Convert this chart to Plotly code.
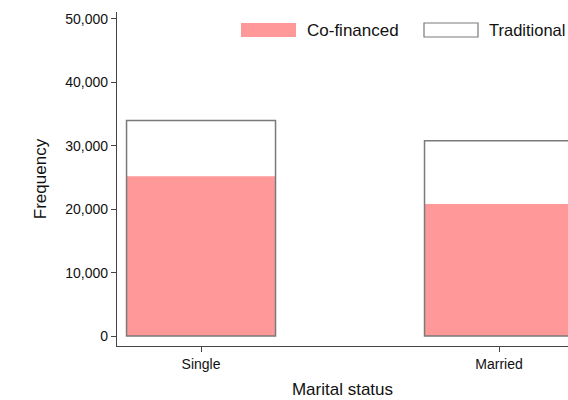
import plotly.graph_objects as go

categories = ["Single", "Married"]
series_names = ["Co-financed", "Traditional"]
cofinanced = [25200, 20800]
traditional = [34000, 30800]
y_ticks = [0, 10000, 20000, 30000, 40000, 50000]
y_ticklabels = ["0", "10,000", "20,000", "30,000", "40,000", "50,000"]

W, H = 568, 400
L, R, T, B = 117, 0, 12, 54
PW, PH = W - L - R, H - T - B

FONT = "Liberation Sans, Arial, sans-serif"
PINK = "#FF9999"
OUTLINE = "#7a7a7a"

fig = go.Figure()
fig.add_trace(go.Bar(x=categories, y=cofinanced, name=series_names[0], width=0.5,
                     marker=dict(color=PINK, line=dict(width=0)), showlegend=False))
fig.add_trace(go.Bar(x=categories, y=traditional, name=series_names[1], width=0.5,
                     marker=dict(color="rgba(0,0,0,0)", line=dict(color=OUTLINE, width=1.5)),
                     showlegend=False))


def px_x(p):
    return (p - L) / PW


def px_y(p):
    return (H - B - p) / PH


shapes = [
    dict(type="rect", xref="paper", yref="paper", x0=px_x(241), x1=px_x(296),
         y0=px_y(37), y1=px_y(23), fillcolor=PINK, line=dict(width=0)),
    dict(type="rect", xref="paper", yref="paper", x0=px_x(424), x1=px_x(478),
         y0=px_y(37), y1=px_y(23), fillcolor="white", line=dict(color=OUTLINE, width=1.2)),
]
annotations = [
    dict(xref="paper", yref="paper", x=px_x(305), y=px_y(30.5), text=series_names[0],
         showarrow=False, xanchor="left", yanchor="middle",
         font=dict(family=FONT, size=17, color="#111")),
    dict(xref="paper", yref="paper", x=px_x(487), y=px_y(30.5), text=series_names[1],
         showarrow=False, xanchor="left", yanchor="middle",
         font=dict(family=FONT, size=16.5, color="#111")),
]

fig.update_layout(
    width=W, height=H,
    margin=dict(l=L, r=R, t=T, b=B, pad=0),
    paper_bgcolor="white", plot_bgcolor="white",
    barmode="overlay",
    font=dict(family=FONT, color="#111"),
    shapes=shapes, annotations=annotations,
    xaxis=dict(type="category", range=[-0.282, 1.2315], showline=True, linecolor="#444",
               linewidth=1.3, ticks="outside", ticklen=5, tickcolor="#444", showgrid=False,
               zeroline=False, tickfont=dict(size=14, family=FONT),
               title=dict(text="Marital status", font=dict(size=17, family=FONT), standoff=12)),
    yaxis=dict(range=[-1577, 51100], tickvals=y_ticks, ticktext=y_ticklabels,
               showline=True, linecolor="#444", linewidth=1.3, ticks="outside", ticklen=5,
               tickcolor="#444", showgrid=False, zeroline=False,
               tickfont=dict(size=14, family=FONT),
               title=dict(text="Frequency", font=dict(size=17, family=FONT), standoff=14)),
)

fig.write_html(
    "out.html",
    config={"displayModeBar": False},
    post_script="document.body.style.margin='0';document.body.style.overflow='hidden';",
)
